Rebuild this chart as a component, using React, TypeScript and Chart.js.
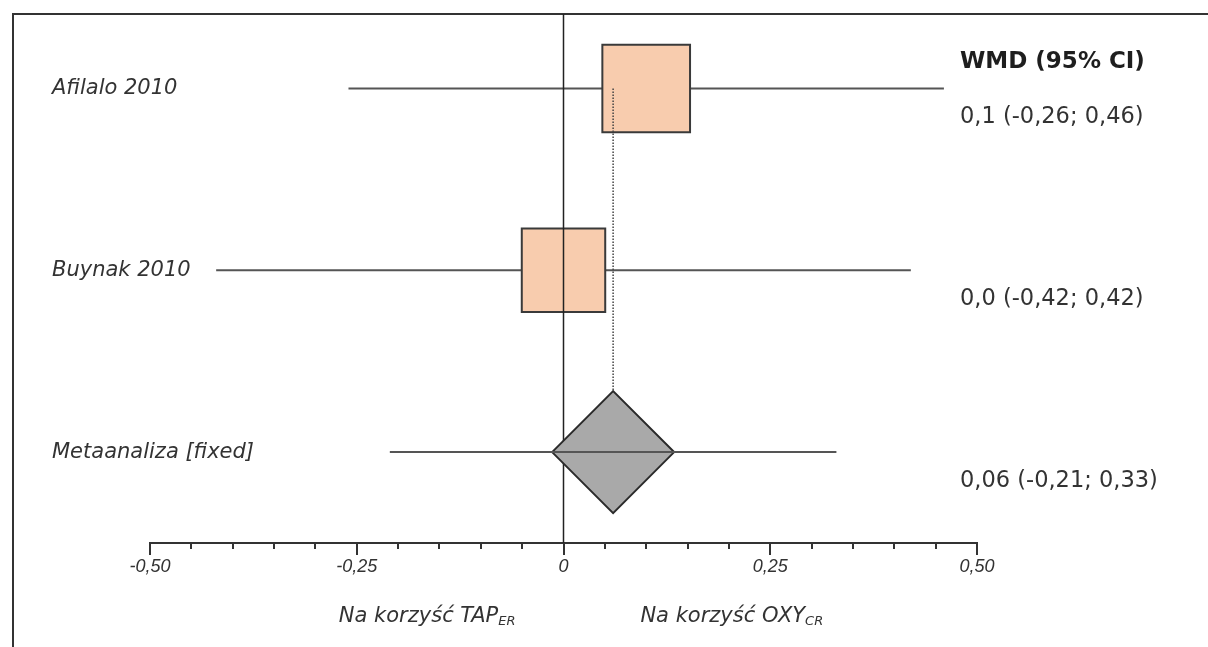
import React, { useEffect, useRef } from "react";
import { Chart, registerables } from "chart.js";

Chart.register(...registerables);

// ---- data ----
const STUDIES = ["Afilalo 2010", "Buynak 2010", "Metaanaliza [fixed]"];
const ROW_POS = [3, 2, 1];
const WMD = [0.1, 0.0, 0.06];
const CI_LOW = [-0.26, -0.42, -0.21];
const CI_HIGH = [0.46, 0.42, 0.33];
const RESULT_TEXT = ["0,1 (-0,26; 0,46)", "0,0 (-0,42; 0,42)", "0,06 (-0,21; 0,33)"];
const HEADER = "WMD (95% CI)";
const MAJOR_TICKS = [-0.5, -0.25, 0, 0.25, 0.5];
const TICK_LABELS = ["-0,50", "-0,25", "0", "0,25", "0,50"];
const MINOR_TICKS = [-0.45, -0.4, -0.35, -0.3, -0.2, -0.15, -0.1, -0.05, 0.05, 0.1, 0.15, 0.2, 0.3, 0.35, 0.4, 0.45];
const FAVOURS_LEFT = ["Na korzyść TAP", "ER"];
const FAVOURS_RIGHT = ["Na korzyść OXY", "CR"];

// ---- styles ----
const BOX_RADIUS = [62, 59];
const DIAMOND_RADIUS = 61;
const INK = "#333333";
const LINE = "#555555";
const FONT = '"DejaVu Sans", Verdana, sans-serif';

const overlay = {
  id: "overlay",
  beforeDraw(chart: any) {
    const { ctx } = chart;
    ctx.save();
    ctx.fillStyle = "#ffffff";
    ctx.fillRect(0, 0, chart.width, chart.height);
    ctx.strokeStyle = INK;
    ctx.lineWidth = 2;
    ctx.beginPath();
    ctx.moveTo(13, chart.height);
    ctx.lineTo(13, 14);
    ctx.lineTo(chart.width, 14);
    ctx.stroke();
    ctx.restore();
  },
  afterDraw(chart: any) {
    const { ctx, chartArea } = chart;
    const x = chart.scales.x;
    const y = chart.scales.y;
    ctx.save();
    // minor ticks
    ctx.strokeStyle = INK;
    ctx.lineWidth = 2;
    MINOR_TICKS.forEach((v) => {
      const px = Math.round(x.getPixelForValue(v));
      ctx.beginPath();
      ctx.moveTo(px, chartArea.bottom);
      ctx.lineTo(px, chartArea.bottom + 6);
      ctx.stroke();
    });
    // row labels
    ctx.textAlign = "left";
    ctx.textBaseline = "middle";
    ctx.fillStyle = INK;
    ctx.font = `italic 21px ${FONT}`;
    STUDIES.forEach((s, i) => {
      ctx.fillText(s, 52, y.getPixelForValue(ROW_POS[i]));
    });
    // right column
    const tx = chartArea.right - 17;
    ctx.fillStyle = "#1e1e1e";
    ctx.font = `bold 23px ${FONT}`;
    ctx.fillText(HEADER, tx, y.getPixelForValue(ROW_POS[0]) - 27);
    ctx.font = `22.5px ${FONT}`;
    ctx.fillStyle = INK;
    RESULT_TEXT.forEach((t, i) => {
      ctx.fillText(t, tx, y.getPixelForValue(ROW_POS[i]) + 29);
    });
    // favours labels
    const base = chartArea.bottom + 79;
    const drawFav = (parts: string[], startX: number) => {
      ctx.textBaseline = "alphabetic";
      ctx.textAlign = "left";
      ctx.font = `italic 21px ${FONT}`;
      ctx.fillText(parts[0], startX, base);
      const w = ctx.measureText(parts[0]).width;
      ctx.font = `italic 13px ${FONT}`;
      ctx.fillText(parts[1], startX + w, base + 3);
    };
    ctx.font = `italic 21px ${FONT}`;
    const wl = ctx.measureText(FAVOURS_LEFT[0]).width;
    ctx.font = `italic 13px ${FONT}`;
    const wls = ctx.measureText(FAVOURS_LEFT[1]).width;
    drawFav(FAVOURS_LEFT, x.getPixelForValue(-0.058) - wl - wls);
    drawFav(FAVOURS_RIGHT, x.getPixelForValue(0.093));
    ctx.restore();
  },
};

export default function App() {
  const ref = useRef<HTMLCanvasElement | null>(null);
  useEffect(() => {
    if (!ref.current) return;
    const studyIdx = [0, 1];
    const datasets: any[] = [];
    studyIdx.forEach((i) => {
      datasets.push({
        label: STUDIES[i] + " CI",
        data: [
          { x: CI_LOW[i], y: ROW_POS[i] },
          { x: CI_HIGH[i], y: ROW_POS[i] },
        ],
        showLine: true,
        borderColor: LINE,
        borderWidth: 2,
        pointRadius: 0,
        order: 10,
      });
    });
    datasets.push({
      label: "boxes",
      data: studyIdx.map((i) => ({ x: WMD[i], y: ROW_POS[i] })),
      pointStyle: "rect",
      pointRadius: BOX_RADIUS,
      backgroundColor: "#f8ccae",
      borderColor: "#3a3a3a",
      borderWidth: 2,
      order: 9,
    });
    datasets.push({
      label: "zero",
      data: [
        { x: 0, y: 0.5 },
        { x: 0, y: 3.41 },
      ],
      showLine: true,
      borderColor: "#222",
      borderWidth: 1.5,
      pointRadius: 0,
      order: 8.5,
    });
    datasets.push({
      label: "pooled ref",
      data: [
        { x: WMD[2], y: ROW_POS[0] },
        { x: WMD[2], y: ROW_POS[2] },
      ],
      showLine: true,
      borderColor: "#444",
      borderWidth: 1.5,
      borderDash: [1.5, 1.5],
      pointRadius: 0,
      order: 8,
    });
    datasets.push({
      label: "diamond",
      data: [{ x: WMD[2], y: ROW_POS[2] }],
      pointStyle: "rectRot",
      pointRadius: DIAMOND_RADIUS,
      backgroundColor: "#a9a9a9",
      borderColor: "#2a2a2a",
      borderWidth: 2,
      order: 7,
    });
    datasets.push({
      label: STUDIES[2] + " CI",
      data: [
        { x: CI_LOW[2], y: ROW_POS[2] },
        { x: CI_HIGH[2], y: ROW_POS[2] },
      ],
      showLine: true,
      borderColor: LINE,
      borderWidth: 2,
      pointRadius: 0,
      order: 6,
    });

    const chart = new Chart(ref.current, {
      type: "scatter",
      data: { datasets },
      options: {
        animation: false,
        responsive: false,
        devicePixelRatio: 1,
        layout: { autoPadding: false, padding: { left: 150, right: 231, top: 14, bottom: 0 } },
        plugins: { legend: { display: false }, tooltip: { enabled: false } },
        scales: {
          x: {
            type: "linear",
            min: -0.5,
            max: 0.5,
            afterBuildTicks: (s: any) => {
              s.ticks = MAJOR_TICKS.map((v) => ({ value: v }));
            },
            afterFit: (s: any) => {
              s.height = 104;
            },
            ticks: {
              autoSkip: false,
              maxRotation: 0,
              padding: 1,
              color: INK,
              font: { family: '"Liberation Sans", Arial, sans-serif', size: 18, style: "italic" },
              callback: (v: any) => {
                const i = MAJOR_TICKS.findIndex((t) => Math.abs(t - Number(v)) < 1e-9);
                return i >= 0 ? TICK_LABELS[i] : "";
              },
            },
            grid: { drawOnChartArea: false, tickLength: 12, color: INK, lineWidth: 2 },
            border: { display: true, color: INK, width: 2 },
          },
          y: {
            type: "linear",
            display: false,
            min: 0.5,
            max: 3.41,
          },
        },
      },
      plugins: [overlay],
    });
    return () => chart.destroy();
  }, []);

  return (
    <div style={{ position: "fixed", left: 0, top: 0, width: 1208, height: 647, background: "#fff" }}>
      <canvas ref={ref} width={1208} height={647} />
    </div>
  );
}
